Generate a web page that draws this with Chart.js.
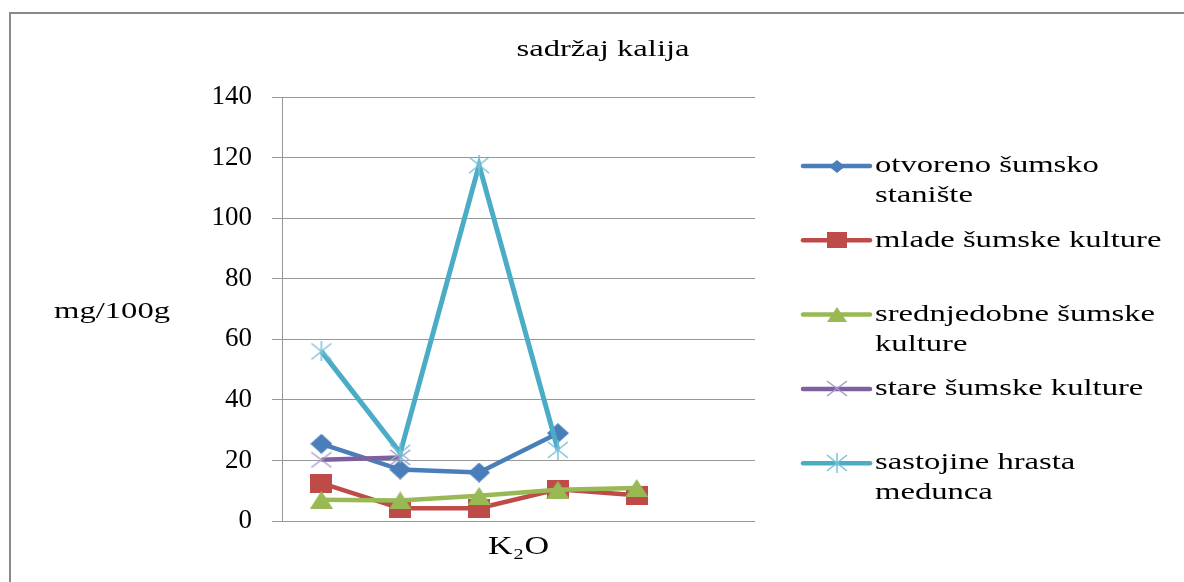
<!DOCTYPE html>
<html><head><meta charset="utf-8">
<script src="https://cdn.jsdelivr.net/npm/chart.js@4/dist/chart.umd.min.js"></script>
<style>
html,body{margin:0;padding:0;background:#fff;overflow:hidden;}
#wrap{position:relative;width:1184px;height:582px;overflow:hidden;}
#frame{position:absolute;left:9px;top:12px;width:1300px;height:700px;border-left:2px solid #8a8a8a;border-top:2px solid #8a8a8a;}
canvas{position:absolute;left:0;top:0;}
</style></head><body>
<div id="wrap"><div id="frame"></div><canvas id="c" width="1184" height="582"></canvas></div>
<script>
// ---- data ----
const chartTitle = 'sadržaj kalija';
const yAxisTitle = 'mg/100g';
const xAxisTitle = 'K₂O';
const categories = ['', '', '', '', '', ''];
const seriesNames = ['otvoreno šumsko stanište', 'mlade šumske kulture', 'srednjedobne šumske kulture', 'stare šumske kulture', 'sastojine hrasta medunca'];
const legendLines = [['otvoreno šumsko', 'stanište'], ['mlade šumske kulture'], ['srednjedobne šumske', 'kulture'], ['stare šumske kulture'], ['sastojine hrasta', 'medunca']];
const otvoreno = [25.5, 17, 16, 29, null, null];
const mlade = [12.5, 4.2, 4.2, 10.5, 8.5, null];
const srednjedobne = [7, 6.8, 8.3, 10.3, 10.9, null];
const stare = [20.2, 21, null, null, null, null];
const sastojine = [56, 22.5, 117.5, 23.5, null, null];
const yTicks = [0, 20, 40, 60, 80, 100, 120, 140];

// ---- styles ----
const FONT = '"Liberation Serif", "Times New Roman", "DejaVu Serif", serif';
Chart.defaults.font.family = FONT;
Chart.defaults.color = '#000';
const colors = ['#4a7ebb', '#be4b48', '#98b954', '#7d60a0', '#4bacc6'];
const markerColors = ['#4a7ebb', '#be4b48', '#98b954', '#a898c8', '#78c2d8'];
const kinds = ['diamond', 'square', 'triangle', 'cross', 'star'];
const chartMarkerSize = [[22, 20], [22, 19], [23, 18], [22, 17], [22, 20]];
const legendMarkerSize = [[16, 13], [20, 16], [20, 15], [22, 17], [22, 20]];

function marker(kind, w, h, color) {
  const c = document.createElement('canvas');
  c.width = w; c.height = h;
  const g = c.getContext('2d');
  g.fillStyle = color; g.strokeStyle = color; g.lineWidth = 1.5;
  g.beginPath();
  if (kind === 'diamond') { g.moveTo(w / 2, 0); g.lineTo(w, h / 2); g.lineTo(w / 2, h); g.lineTo(0, h / 2); g.closePath(); g.fill(); }
  else if (kind === 'square') { g.fillRect(0, 0, w, h); }
  else if (kind === 'triangle') { g.moveTo(w / 2, 0); g.lineTo(w, h); g.lineTo(0, h); g.closePath(); g.fill(); }
  else if (kind === 'cross') { g.moveTo(1, 1); g.lineTo(w - 1, h - 1); g.moveTo(w - 1, 1); g.lineTo(1, h - 1); g.stroke(); }
  else if (kind === 'star') { g.moveTo(1, 2); g.lineTo(w - 1, h - 2); g.moveTo(w - 1, 2); g.lineTo(1, h - 2); g.moveTo(w / 2, 0); g.lineTo(w / 2, h); g.stroke(); }
  return c;
}
const chartMarkers = kinds.map((k, i) => marker(k, chartMarkerSize[i][0], chartMarkerSize[i][1], markerColors[i]));
const legendMarkers = kinds.map((k, i) => marker(k, legendMarkerSize[i][0], legendMarkerSize[i][1], markerColors[i]));

const seriesValues = [otvoreno, mlade, srednjedobne, stare, sastojine];
const datasets = seriesValues.map((vals, i) => ({
  label: seriesNames[i],
  data: vals,
  borderColor: colors[i],
  backgroundColor: colors[i],
  borderWidth: i === 4 ? 5 : 4.5,
  pointStyle: chartMarkers[i],
  pointRadius: 10,
  pointHoverRadius: 10,
  tension: 0,
  spanGaps: false,
  order: 5 - i
}));

const TEXT_SX = 1.36;
function stretchedText(ctx, text, x, y, align, size) {
  ctx.save();
  ctx.font = (size || 24) + 'px ' + FONT;
  ctx.fillStyle = '#000';
  ctx.textBaseline = 'middle';
  ctx.textAlign = align;
  ctx.translate(x, y);
  ctx.scale(TEXT_SX, 1);
  ctx.fillText(text, 0, 0);
  ctx.restore();
}

const decor = {
  id: 'decor',
  afterDraw(chart) {
    const ctx = chart.ctx;
    const area = chart.chartArea;
    stretchedText(ctx, chartTitle, 603, 50, 'center');
    stretchedText(ctx, yAxisTitle, 54, 312, 'left');
    stretchedText(ctx, xAxisTitle, (area.left + area.right) / 2, 547, 'center', 25);
    // legend
    const x1 = 803, x2 = 870, tx = 875, top = 166, step = 74.3, lh = 30;
    chart.data.datasets.forEach((ds, i) => {
      const y = top + step * i;
      ctx.save();
      ctx.strokeStyle = ds.borderColor;
      ctx.lineWidth = 4.5;
      ctx.lineCap = 'round';
      ctx.beginPath(); ctx.moveTo(x1, y); ctx.lineTo(x2, y); ctx.stroke();
      const m = legendMarkers[i];
      ctx.drawImage(m, Math.round((x1 + x2) / 2 - m.width / 2), Math.round(y - m.height / 2));
      ctx.restore();
      legendLines[i].forEach((line, k) => stretchedText(ctx, line, tx, y + k * lh, 'left'));
    });
  }
};

new Chart(document.getElementById('c'), {
  type: 'line',
  data: { labels: categories, datasets },
  plugins: [decor],
  options: {
    responsive: false,
    animation: false,
    events: [],
    layout: { padding: { left: 0, top: 97, right: 429, bottom: 61 } },
    plugins: { legend: { display: false }, title: { display: false }, tooltip: { enabled: false } },
    scales: {
      x: {
        type: 'category',
        offset: true,
        display: false
      },
      y: {
        min: 0, max: 140,
        afterBuildTicks: s => { s.ticks = yTicks.map(v => ({ value: v })); },
        afterFit: s => { s.width = 282; },
        grid: { color: '#979797', lineWidth: 1, tickLength: 10, drawTicks: true, tickColor: '#979797' },
        border: { display: true, color: '#979797', width: 1 },
        ticks: { font: { size: 27 }, color: '#000', padding: 20 }
      }
    }
  }
});
</script>
</body></html>
